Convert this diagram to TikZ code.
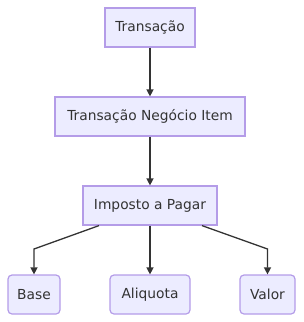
\documentclass[tikz,border=0pt]{standalone}
\usepackage{fontspec}
\setmainfont{DejaVu Sans}
\usetikzlibrary{arrows.meta}
\definecolor{nodefill}{HTML}{ECECFF}
\definecolor{nodestroke}{HTML}{B49CE8}
\definecolor{edgecol}{HTML}{333333}
\begin{document}
\begin{tikzpicture}[x=1pt,y=-1pt,
  box/.style={draw=nodestroke,fill=nodefill,line width=1.2pt,inner sep=0pt,minimum height=39pt,font=\fontsize{13.8}{16}\selectfont,text=edgecol},
  rbox/.style={box,rounded corners=4pt},
  edge/.style={draw=edgecol,line width=1.3pt,-{Triangle[length=7pt,width=7pt]}}]
\useasboundingbox (0,0) rectangle (304,322);
\node[box,minimum width=90pt] (t) at (150,27.5) {Transação};
\node[box,minimum width=190pt] (tn) at (150,116.5) {Transação Negócio Item};
\node[box,minimum width=134pt] (ip) at (150,205.5) {Imposto a Pagar};
\node[rbox,minimum width=52pt] (b) at (34,294.5) {Base};
\node[rbox,minimum width=80pt] (a) at (150,294.5) {Aliquota};
\node[rbox,minimum width=55pt] (v) at (267.5,294.5) {Valor};
\coordinate (bl) at (34,249);
\coordinate (vr) at (267.5,249);
\draw[edge] (t) -- (tn);
\draw[edge] (tn) -- (ip);
\draw[edge] (ip.south) ++(-51,0) -- (bl) -- (b);
\draw[edge] (ip) -- (a);
\draw[edge] (ip.south) ++(52,0) -- (vr) -- (v);
\end{tikzpicture}
\end{document}
